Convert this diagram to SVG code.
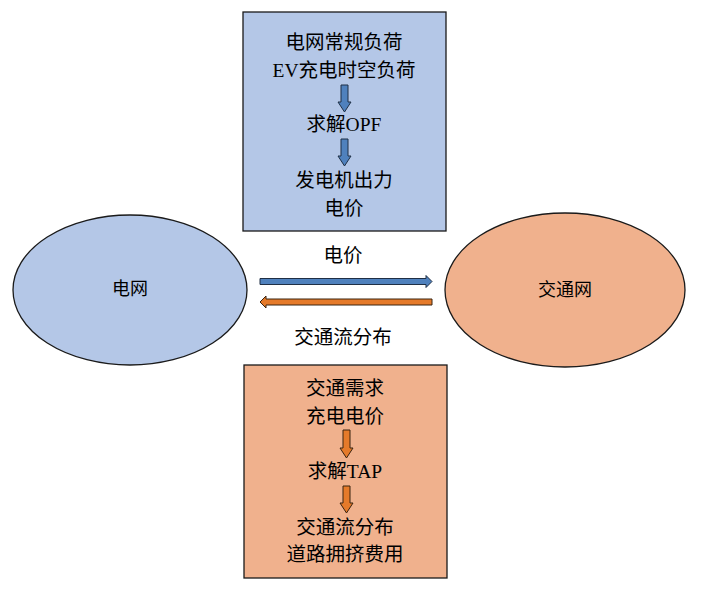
<svg xmlns="http://www.w3.org/2000/svg" width="728" height="589" viewBox="0 0 728 589">
<style>
text{font-family:"Liberation Serif","Noto Sans CJK SC",serif;font-size:19.5px;fill:#000;text-anchor:middle;dominant-baseline:central}
.blue{fill:#B4C7E7;stroke:#1a1a1a;stroke-width:1.3}
.orange{fill:#F0B18D;stroke:#1a1a1a;stroke-width:1.3}
.ba{fill:#4F81BD;stroke:#1f2f45;stroke-width:1}
.oa{fill:#E57A2A;stroke:#3a2410;stroke-width:1}
</style>
<rect width="728" height="589" fill="#fff"/>
<g id="grid">
<ellipse class="blue" cx="130" cy="290" rx="117" ry="75"/>
<text x="130" y="289" style="font-size:18px">电网</text>
</g>
<g id="traffic">
<ellipse class="orange" cx="565" cy="290" rx="120" ry="77"/>
<text x="565" y="290" style="font-size:18px">交通网</text>
</g>
<g id="opf-box">
<rect class="blue" x="243" y="12" width="203" height="219"/>
<text x="344" y="42">电网常规负荷</text>
<text x="344" y="70">EV充电时空负荷</text>
<polygon class="ba" points="341,85 348,85 348,102 351,102 344.5,112 338,102 341,102"/>
<text x="344" y="124">求解OPF</text>
<polygon class="ba" points="341,139 348,139 348,156 351,156 344.5,166 338,156 341,156"/>
<text x="344" y="180">发电机出力</text>
<text x="344" y="208">电价</text>
</g>
<g id="tap-box">
<rect class="orange" x="244" y="365" width="203" height="213"/>
<text x="345" y="388">交通需求</text>
<text x="345" y="416">充电电价</text>
<polygon class="oa" points="343,430 350,430 350,448 353,448 346.5,458 340,448 343,448"/>
<text x="345" y="471">求解TAP</text>
<polygon class="oa" points="343,486 350,486 350,503 353,503 346.5,513 340,503 343,503"/>
<text x="345" y="527">交通流分布</text>
<text x="345" y="554">道路拥挤费用</text>
</g>
<g id="connectors">
<polygon class="ba" points="260,278.5 426,278.5 426,275.5 432,281.5 426,287.5 426,284.5 260,284.5"/>
<text x="343" y="255">电价</text>
<polygon class="oa" points="432,299 266,299 266,296 260,302 266,308 266,305 432,305"/>
<text x="343" y="337">交通流分布</text>
</g>
</svg>
